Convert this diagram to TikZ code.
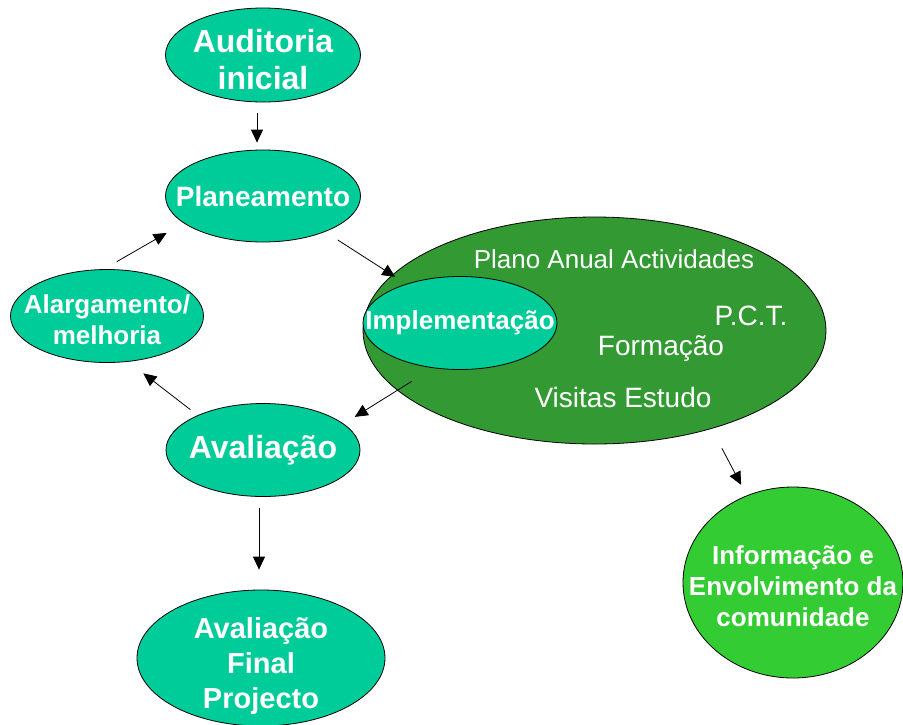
\documentclass[tikz,border=0pt]{standalone}
\usepackage{fontspec}
\setmainfont{Liberation Sans}
\usepackage{xcolor}
\usetikzlibrary{calc,shapes.geometric,arrows.meta}
\definecolor{stagegreen}{HTML}{00CC99}
\definecolor{actgreen}{HTML}{339933}
\definecolor{infogreen}{HTML}{33CC33}
\newcommand{\lift}[1]{\rule{0pt}{#1}}
\tikzset{
	stage/.style={ellipse, draw=black, line width=0.8pt, fill=stagegreen,
			text=white, inner sep=-60pt, align=center},
	arr/.style={line width=0.8pt, -{Triangle[length=13pt,width=12pt]}},
	note/.style={text=white, anchor=base}
}
\begin{document}
\begin{tikzpicture}[x=1pt,y=-1pt]
            \useasboundingbox (0,0) rectangle (903,724);
            \node[stage, minimum width=195pt, minimum height=94pt, font={\fontsize{32}{37}\selectfont\bfseries}] (aud) at (263,55) {\lift{32pt}Auditoria\\inicial};
            \node[stage, minimum width=195pt, minimum height=92pt, font={\fontsize{28}{32}\selectfont\bfseries}] (plan) at (263,196) {Planeamento};
            \node[stage, minimum width=193pt, minimum height=93pt, font={\fontsize{26}{31}\selectfont\bfseries}] (alarg) at (107,316) {\lift{27pt}Alargamento/\\melhoria};
            \node[stage, fill=actgreen, minimum width=463pt, minimum height=227pt] (big) at (594.5,330.5) {};
            \node[stage, minimum width=194pt, minimum height=93pt, font={\fontsize{26}{31}\selectfont\bfseries}] (impl) at (460,323) {Implementação};
            \node[stage, minimum width=194pt, minimum height=93pt, font={\fontsize{32}{37}\selectfont\bfseries}] (aval) at (263,450) {Avaliação};
            \node[stage, minimum width=248pt, minimum height=136pt, font={\fontsize{29}{35}\selectfont\bfseries}] (fin) at (261,658) {\lift{36pt}Avaliação\\Final\\Projecto};
            \node[stage, fill=infogreen, minimum width=220pt, minimum height=191pt, font={\fontsize{26}{31}\selectfont\bfseries}] (info) at (793,582.5) {\lift{27pt}Informação e\\Envolvimento da\\comunidade};
            \node[note, font=\fontsize{26}{31}\selectfont] (pa) at (614,268) {Plano Anual Actividades};
            \node[note, font=\fontsize{28}{33}\selectfont] (pct) at (751,325) {P.C.T.};
            \node[note, font=\fontsize{28}{33}\selectfont] (form) at (661,355) {Formação};
            \node[note, font=\fontsize{28}{33}\selectfont] (vis) at (623,407) {Visitas Estudo};
            \draw[arr, shorten <=11pt, shorten >=7pt] ([xshift=-6pt]aud.south) -- ([xshift=-6pt]plan.north);
            \draw[arr, shorten <=15pt, shorten >=13pt] (plan.-30) -- (impl.144);
            \draw[arr, shorten <=25pt, shorten >=13pt] (impl.-121) -- (aval.18);
            \draw[arr, shorten <=9pt, shorten >=19pt] (aval.152) -- (alarg.-65);
            \draw[arr, shorten <=15pt, shorten >=20pt] (alarg.94) -- ($(plan)+(-79,27)$);
            \draw[arr, shorten <=11pt, shorten >=20pt] ([xshift=-4pt]aval.south) -- ([xshift=-2pt]fin.north);
            \draw[arr, shorten <=22pt, shorten >=12pt] (big.-40) -- (info.118);
        \end{tikzpicture}
\end{document}
